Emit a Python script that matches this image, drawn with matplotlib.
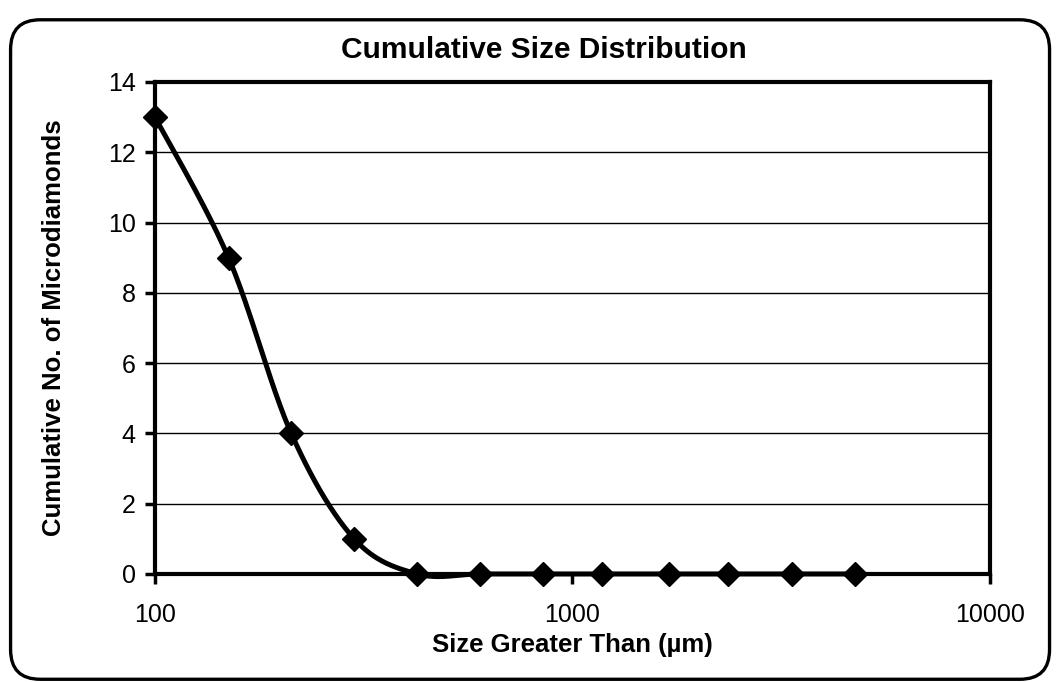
import numpy as np
import matplotlib
matplotlib.use("Agg")
import matplotlib.pyplot as plt
from matplotlib.patches import FancyBboxPatch
from matplotlib.ticker import FixedLocator, NullLocator, FixedFormatter

# sieve sizes (um) and cumulative counts
sizes = [100, 150, 212, 300, 425, 600, 850, 1180, 1700, 2360, 3350, 4750]
counts = [13, 9, 4, 1, 0, 0, 0, 0, 0, 0, 0, 0]

x_ticks = [100, 1000, 10000]
x_tick_labels = ["100", "1000", "10000"]
y_ticks = [0, 2, 4, 6, 8, 10, 12, 14]

title = "Cumulative Size Distribution"
x_label = "Size Greater Than (\u00b5m)"
y_label = "Cumulative No. of Microdiamonds"


def smooth_line(xs, ys, n=40):
    # Excel-like "smoothed line": cubic bezier with catmull-rom style handles,
    # done in log-x space so it looks right on the log axis
    lx = np.log10(np.asarray(xs, dtype=float))
    y = np.asarray(ys, dtype=float)
    pts = np.column_stack([lx, y])
    out = []
    for i in range(len(pts) - 1):
        p0 = pts[max(i - 1, 0)]
        p1 = pts[i]
        p2 = pts[i + 1]
        p3 = pts[min(i + 2, len(pts) - 1)]
        c1 = p1 + (p2 - p0) / 6.0
        c2 = p2 - (p3 - p1) / 6.0
        t = np.linspace(0, 1, n)[:, None]
        seg = ((1 - t) ** 3) * p1 + 3 * ((1 - t) ** 2) * t * c1 \
            + 3 * (1 - t) * t ** 2 * c2 + t ** 3 * p2
        out.append(seg if i == 0 else seg[1:])
    out = np.vstack(out)
    return 10 ** out[:, 0], out[:, 1]


def main():
    plt.rcParams["font.family"] = ["Liberation Sans", "DejaVu Sans"]

    fig = plt.figure(figsize=(10.58, 6.82), dpi=100)
    ax = fig.add_axes([0.1465, 0.1584, 0.7892, 0.7214])

    # rounded outer border of the chart area
    border = FancyBboxPatch((0.010, 0.004), 0.982, 0.967,
                            boxstyle="round,pad=0,rounding_size=0.028",
                            transform=fig.transFigure, fill=False,
                            edgecolor="black", linewidth=2.4,
                            mutation_aspect=1058 / 682)
    fig.patches.append(border)

    sx, sy = smooth_line(sizes, counts)
    ax.plot(sx, sy, color="black", linewidth=3.6, solid_capstyle="round",
            zorder=3, clip_on=False)
    ax.plot(sizes, counts, linestyle="none", marker="D", markersize=12.5,
            color="black", zorder=4, clip_on=False)

    ax.set_xscale("log")
    ax.set_xlim(100, 10000)
    ax.set_ylim(0, 14)
    ax.xaxis.set_major_locator(FixedLocator(x_ticks))
    ax.xaxis.set_major_formatter(FixedFormatter(x_tick_labels))
    ax.xaxis.set_minor_locator(NullLocator())
    ax.set_yticks(y_ticks)

    ax.grid(axis="y", color="black", linewidth=1.0)
    ax.set_axisbelow(True)
    for sp in ax.spines.values():
        sp.set_linewidth(3.0)

    ax.tick_params(axis="both", direction="out", length=7, width=2.5,
                   labelsize=18)
    ax.tick_params(axis="x", pad=14)
    ax.tick_params(axis="y", pad=7)

    ax.set_title(title, fontsize=21.5, fontweight="bold", pad=17, x=0.466)
    ax.set_xlabel(x_label, fontsize=18.5, fontweight="bold", labelpad=4.5)
    ax.set_ylabel(y_label, fontsize=18.5, fontweight="bold", labelpad=30)

    fig.savefig("out.png", dpi=100)
    plt.close(fig)


if __name__ == "__main__":
    main()
